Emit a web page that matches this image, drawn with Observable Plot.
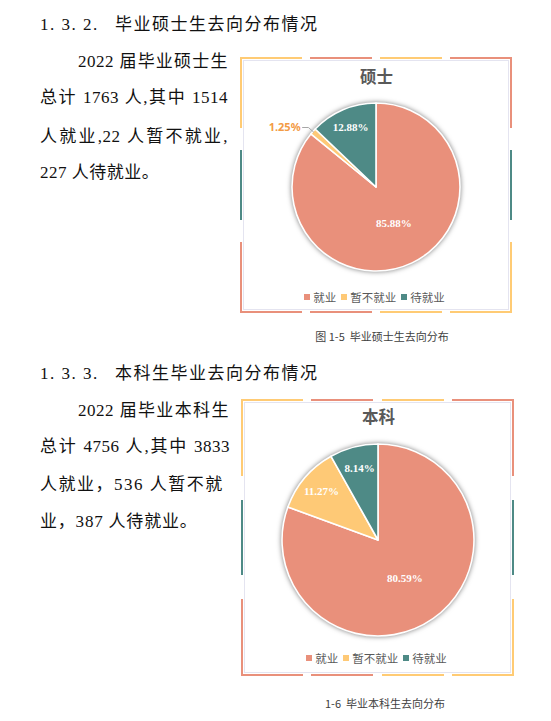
<!DOCTYPE html>
<html>
<head>
<meta charset="utf-8">
<script src="https://cdn.jsdelivr.net/npm/d3@7"></script>
<script src="https://cdn.jsdelivr.net/npm/@observablehq/plot@0.6"></script>
<style>
  body { margin: 0; background: #fff; }
  #page { position: relative; width: 551px; height: 721px; overflow: hidden;
          font-family: "Liberation Serif", "Noto Sans CJK SC", serif; color: #111; }
  .abs { position: absolute; white-space: nowrap; }
  .h { font-size: 17px; line-height: 20px; letter-spacing: 1.5px; }
  .p { font-size: 17px; line-height: 20px; letter-spacing: 0.5px; }
  .j { text-align: justify; text-align-last: justify; }
  .seg { position: absolute; }
  .inner { position: absolute; border: 1px solid #e4e4f0; box-sizing: border-box; }
  .legend { position: absolute; display: flex; justify-content: center; }
  .legend > div { margin: 0 !important; min-height: 0 !important; justify-content: center;
                  font-family: "Noto Sans CJK SC", sans-serif !important; font-size: 11.5px !important; color: #595959; }
  .legend span { margin-right: 5px !important; }
  .legend svg { margin-right: 3px !important; }
  .cap { position: absolute; text-align: center; font-family: "Noto Sans CJK SC", sans-serif;
         font-size: 11px; line-height: 16px; color: #404040; }
</style>
</head>
<body>
<div id="page"></div>
<script>
const statusNames = ["就业", "暂不就业", "待就业"];
const statusColors = ["#E9907B", "#FEC976", "#4E8A86"];
const masterCounts = [1514, 22, 227];
const bachelorCounts = [3833, 536, 387];

const page = document.getElementById("page");

function addDiv(cls, css, html) {
    const d = document.createElement("div");
    d.className = cls;
    Object.assign(d.style, css);
    if (html !== undefined) d.innerHTML = html;
    page.append(d);
    return d;
}

// text blocks
addDiv("abs h", { left: "40px", top: "15px" }, "1. 3. 2.");
addDiv("abs h", { left: "115px", top: "15px" }, "毕业硕士生去向分布情况");
addDiv("abs p j", { left: "78px", top: "52px", width: "150px" }, "2022 届毕业硕士生");
addDiv("abs p j", { left: "40px", top: "88px", width: "188px" }, "总计 1763 人,其中 1514");
addDiv("abs p j", { left: "40px", top: "127px", width: "188px" }, "人就业,22 人暂不就业,");
addDiv("abs p", { left: "40px", top: "163px" }, "227 人待就业。");

addDiv("abs h", { left: "40px", top: "364px" }, "1. 3. 3.");
addDiv("abs h", { left: "115px", top: "364px" }, "本科生毕业去向分布情况");
addDiv("abs p j", { left: "78px", top: "401px", width: "151px" }, "2022 届毕业本科生");
addDiv("abs p j", { left: "40px", top: "437px", width: "190px" }, "总计 4756 人,其中 3833");
addDiv("abs p", { left: "40px", top: "475px", letterSpacing: "1.5px" }, "人就业，536 人暂不就");
addDiv("abs p", { left: "40px", top: "512px", letterSpacing: "0.8px" }, "业，387 人待就业。");

// decorative frame: segments per side as [color, from, to] fractions
const Y = "#FFCB74", S = "#E9907B", T = "#4E8A86";
const frameSides = {
    top:    [[Y, 0, 0.228], [S, 0.257, 0.485], [Y, 0.515, 0.743], [S, 0.772, 1]],
    bottom: [[S, 0, 0.228], [S, 0.257, 0.485], [Y, 0.515, 0.743], [Y, 0.772, 1]],
    left:   [[Y, 0, 0.277], [T, 0.363, 0.637], [S, 0.723, 1]],
    right:  [[S, 0, 0.277], [T, 0.363, 0.637], [Y, 0.723, 1]]
};

function drawFrame(left, top, w, h) {
    const t = 2;
    for (const [side, segs] of Object.entries(frameSides)) {
        for (const [color, a, b] of segs) {
            const css = { background: color };
            if (side === "top" || side === "bottom") {
                css.left = (left + a * w) + "px";
                css.width = ((b - a) * w) + "px";
                css.top = (side === "top" ? top : top + h - t) + "px";
                css.height = t + "px";
            } else {
                css.top = (top + a * h) + "px";
                css.height = ((b - a) * h) + "px";
                css.left = (side === "left" ? left : left + w - t) + "px";
                css.width = t + "px";
            }
            addDiv("seg", css);
        }
    }
    addDiv("inner", { left: (left + 3) + "px", top: (top + 3) + "px", width: (w - 6) + "px", height: (h - 6) + "px" });
}

function pieRender(slices) {
    return (index, scales) => {
        const cx = scales.x(0), cy = scales.y(0), r = scales.x(1) - scales.x(0);
        const arc = d3.arc().innerRadius(0).outerRadius(r);
        const g = d3.create("svg:g")
            .attr("transform", `translate(${cx},${cy})`)
            .style("filter", "drop-shadow(0px 0px 2.5px rgba(0,0,0,0.5))");
        g.selectAll("path").data(slices).join("path")
            .attr("d", arc)
            .attr("fill", s => s.data.color)
            .attr("stroke", "white")
            .attr("stroke-width", 1.6)
            .attr("stroke-linejoin", "round");
        return g.node();
    };
}

function piePlot({ title, counts, width, height, margins, titleDy }) {
    const total = d3.sum(counts);
    const rows = statusNames.map((name, i) => ({ name, count: counts[i], color: statusColors[i] }));
    const slices = d3.pie().sort(null).value(d => d.count)(rows);
    slices.forEach(s => {
        s.mid = (s.startAngle + s.endAngle) / 2;
        s.share = s.data.count / total;
        s.pct = (100 * s.share).toFixed(2) + "%";
        s.labelR = s.share > 0.5 ? 0.48 : 0.78;
    });
    const inside = slices.filter(s => s.share >= 0.03);
    const outside = slices.filter(s => s.share < 0.03);
    const leaders = outside.flatMap(s => {
        const sx = Math.sin(s.mid), sy = Math.cos(s.mid);
        return [
            { k: s.index, x: sx, y: sy },
            { k: s.index, x: 1.08 * sx, y: 1.08 * sy },
            { k: s.index, x: 1.08 * sx + Math.sign(sx) * 0.07, y: 1.08 * sy }
        ];
    });

    return Plot.plot({
        width, height,
        marginTop: margins[0], marginRight: margins[1], marginBottom: margins[2], marginLeft: margins[3],
        x: { domain: [-1, 1], axis: null },
        y: { domain: [-1, 1], axis: null },
        style: { background: "transparent", overflow: "visible" },
        marks: [
            pieRender(slices),
            Plot.text(inside, {
                x: s => s.labelR * Math.sin(s.mid), y: s => s.labelR * Math.cos(s.mid),
                text: "pct", fill: "white", fontWeight: "bold", fontSize: 11,
                fontFamily: "Liberation Serif"
            }),
            Plot.line(leaders, { x: "x", y: "y", z: "k", stroke: "#A6A6A6", strokeWidth: 1 }),
            Plot.text(outside, {
                x: s => 1.08 * Math.sin(s.mid) + Math.sign(Math.sin(s.mid)) * 0.07,
                y: s => 1.08 * Math.cos(s.mid),
                text: "pct", textAnchor: "end", dx: -2,
                fill: "#F39B45", fontWeight: "bold", fontSize: 11, fontFamily: "Noto Sans"
            }),
            Plot.text([title], {
                frameAnchor: "top", dy: titleDy, lineAnchor: "middle", text: d => d,
                fontSize: 16.5, fontWeight: "bold", fill: "#595959", fontFamily: "Noto Sans CJK SC"
            })
        ]
    });
}

function legendDiv(left, top, width) {
    const leg = Plot.legend({
        color: { domain: statusNames, range: statusColors },
        legend: "swatches", swatchSize: 6, className: "pl"
    });
    const d = addDiv("legend", { left: left + "px", top: top + "px", width: width + "px" });
    d.append(leg);
}

// chart 1: 硕士
drawFrame(240, 57, 272, 256);
const c1 = piePlot({ title: "硕士", counts: masterCounts, width: 266, height: 250,
                     margins: [43, 49, 39, 49], titleDy: -26 });
addDiv("abs", { left: "243px", top: "60px" }).append(c1);
legendDiv(241, 289, 272);
addDiv("cap", { left: "240px", top: "328px", width: "284px" }, "图 1-5&nbsp; 毕业硕士生去向分布");

// chart 2: 本科
drawFrame(241, 399, 273, 277);
const c2 = piePlot({ title: "本科", counts: bachelorCounts, width: 267, height: 271,
                     margins: [42, 37, 37, 38], titleDy: -27 });
addDiv("abs", { left: "244px", top: "402px" }).append(c2);
legendDiv(243, 650, 272);
addDiv("cap", { left: "240px", top: "695px", width: "290px" }, "1-6&nbsp; 毕业本科生去向分布");
</script>
</body>
</html>
